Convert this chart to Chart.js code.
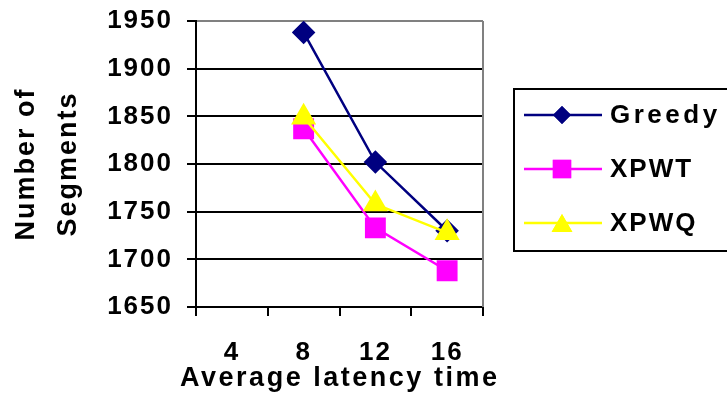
<!DOCTYPE html>
<html>
<head>
<meta charset="utf-8">
<script src="https://cdn.jsdelivr.net/npm/chart.js@4/dist/chart.umd.min.js"></script>
<style>
  html, body { margin: 0; padding: 0; background: #fff; }
  #wrap { width: 727px; height: 396px; position: relative; }
</style>
</head>
<body>
<div id="wrap"><canvas id="chart"></canvas></div>
<script>
const categories = ["4", "8", "12", "16"];
const greedy = [null, 1938, 1802, 1730];
const xpwt   = [null, 1837, 1733, 1688];
const xpwq   = [null, 1849, 1758, 1728];
const yTicks = [1650, 1700, 1750, 1800, 1850, 1900, 1950];
const xTitle = "Average latency time";

const FONT = "'Liberation Sans', Arial, sans-serif";

// the old Excel text is wide, so space the letters a bit
const spacing = {
  id: "spacing",
  beforeLayout(chart) { chart.ctx.letterSpacing = "2px"; },
  beforeDraw(chart) { chart.ctx.letterSpacing = "2px"; }
};

// legend box, x title and gray right border of the plot
const excelLegend = {
  id: "excelLegend",
  afterDraw(chart) {
    const ctx = chart.ctx;
    const a = chart.chartArea;
    ctx.save();
    ctx.strokeStyle = "#808080";
    ctx.lineWidth = 2;
    ctx.beginPath();
    ctx.moveTo(a.right, a.top);
    ctx.lineTo(a.right, a.bottom);
    ctx.stroke();

    // x axis title, stretched to the width Excel gave it
    ctx.font = "bold 27px " + FONT;
    ctx.fillStyle = "#000";
    ctx.textBaseline = "middle";
    ctx.textAlign = "left";
    ctx.letterSpacing = "0px";
    const w = ctx.measureText(xTitle).width;
    ctx.letterSpacing = ((317 - w) / (xTitle.length - 1)) + "px";
    ctx.fillText(xTitle, 180, 379);

    ctx.strokeStyle = "#000";
    ctx.lineWidth = 2;
    ctx.strokeRect(514, 89, 230, 162);

    const items = [
      { label: "Greedy", color: "#000080", style: "rectRot", r: 9, sp: "3.5px" },
      { label: "XPWT",   color: "#FF00FF", style: "rect",    r: 13, sp: "2px" },
      { label: "XPWQ",   color: "#FFFF00", style: "triangle", r: 12, sp: "2px" },
    ];
    ctx.font = "bold 26px " + FONT;
    items.forEach((it, i) => {
      const y = 115 + i * 54;
      ctx.strokeStyle = it.color;
      ctx.lineWidth = 2.5;
      ctx.beginPath();
      ctx.moveTo(524, y);
      ctx.lineTo(602, y);
      ctx.stroke();
      ctx.fillStyle = it.color;
      Chart.helpers.drawPoint(ctx, { pointStyle: it.style, radius: it.r, borderWidth: 0 }, 562, y + (it.style === "triangle" ? 3 : 0));
      ctx.fill();
      ctx.fillStyle = "#000";
      ctx.letterSpacing = it.sp;
      ctx.fillText(it.label, 610, y + 1);
    });
    ctx.restore();
  }
};

new Chart(document.getElementById("chart"), {
  type: "line",
  data: {
    labels: categories,
    datasets: [
      { label: "Greedy", data: greedy, borderColor: "#000080", backgroundColor: "#000080",
        borderWidth: 2.5, pointStyle: "rectRot", pointRadius: 10, order: 2 },
      { label: "XPWT", data: xpwt, borderColor: "#FF00FF", backgroundColor: "#FF00FF",
        borderWidth: 2.5, pointStyle: "rect", pointRadius: 13, order: 1 },
      { label: "XPWQ", data: xpwq, borderColor: "#FFFF00", backgroundColor: "#FFFF00",
        borderWidth: 2.5, pointStyle: "triangle", pointRadius: 12, order: 0 },
    ]
  },
  options: {
    responsive: true,
    maintainAspectRatio: false,
    animation: false,
    spanGaps: false,
    layout: { padding: { top: 21, right: 244, left: 0, bottom: 0 } },
    plugins: { legend: { display: false }, tooltip: { enabled: false } },
    elements: { line: { tension: 0 }, point: { borderWidth: 0, hoverRadius: 10 } },
    scales: {
      x: {
        offset: true,
        grid: { offset: true, drawOnChartArea: false, drawTicks: true, tickLength: 9, color: "#000", lineWidth: 2 },
        border: { color: "#000", width: 2 },
        ticks: { color: "#000", font: { family: FONT, size: 26, weight: "bold" }, padding: 21, maxRotation: 0 },
        afterFit(s) { s.height = 89; }
      },
      y: {
        min: 1650, max: 1950,
        afterBuildTicks(s) { s.ticks = yTicks.map(v => ({ value: v })); },
        grid: {
          color: c => (c.tick && c.tick.value === 1950) ? "#808080" : "#000",
          tickColor: "#000", lineWidth: 2, tickLength: 9
        },
        border: { color: "#000", width: 2 },
        ticks: { color: "#000", font: { family: FONT, size: 26, weight: "bold" }, padding: 14,
                 callback: v => String(v) },
        title: { display: true, text: ["Number of", "Segments"], color: "#000",
                 font: { family: FONT, size: 27, weight: "bold", lineHeight: 1.55 }, padding: { top: 6, bottom: 0 } },
        afterFit(s) { s.width = 196; s.paddingTop = 0; s.paddingBottom = 0; }
      }
    }
  },
  plugins: [spacing, excelLegend]
});
</script>
</body>
</html>
